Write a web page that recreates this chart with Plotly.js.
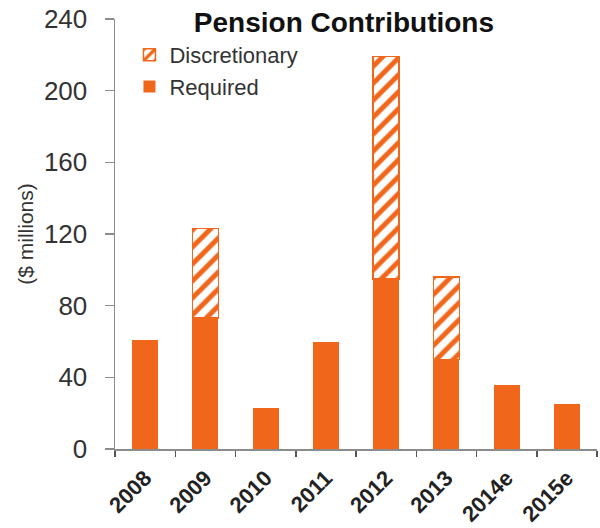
<!DOCTYPE html>
<html>
<head>
<meta charset="utf-8">
<script src="https://cdn.plot.ly/plotly-3.0.1.min.js"></script>
<style>html,body{margin:0;padding:0;background:#fff;}#chart{width:600px;height:528px;}</style>
</head>
<body>
<div id="chart"></div>
<script>
const years = ['2008', '2009', '2010', '2011', '2012', '2013', '2014e', '2015e'];
const required = [61, 73, 23, 60, 95, 50, 36, 25];
const discretionary = [null, 50, null, null, 124, 46, null, null];
const yTicks = [0, 40, 80, 120, 160, 200, 240];

const orange = '#F0671C';
const FONT = 'Liberation Sans, Arial, sans-serif';

const traces = [
  {
    type: 'bar', name: 'Required', x: years, y: required,
    marker: {color: orange, line: {width: 0}},
    hoverinfo: 'x+y'
  },
  {
    type: 'bar', name: 'Discretionary', x: years, y: discretionary,
    marker: {
      color: '#ffffff',
      line: {color: orange, width: 1.5},
      pattern: {shape: '/', fgcolor: orange, bgcolor: '#ffffff', size: 12, solidity: 0.42}
    },
    hoverinfo: 'x+y'
  }
];

const layout = {
  width: 600, height: 528,
  margin: {l: 115, r: 3, t: 19, b: 79},
  paper_bgcolor: '#ffffff', plot_bgcolor: '#ffffff',
  barmode: 'stack', bargap: 0.57,
  font: {family: FONT, color: '#333333'},
  title: {
    text: '<b>Pension Contributions</b>',
    font: {family: FONT, size: 28, color: '#111111'},
    xref: 'paper', x: 0.475, xanchor: 'center',
    yref: 'container', y: 0.958, yanchor: 'middle'
  },
  showlegend: true,
  legend: {
    x: 0.03, xanchor: 'left', y: 0.965, yanchor: 'top',
    traceorder: 'reversed',
    font: {family: FONT, size: 22, color: '#333333'},
    bgcolor: 'rgba(0,0,0,0)'
  },
  xaxis: {
    type: 'category', range: [-0.5, 7.5],
    showline: true, linecolor: '#8c8c8c', linewidth: 1.5,
    ticks: 'outside', tickson: 'boundaries', ticklen: 6, tickcolor: '#555555', tickwidth: 1.5,
    tickangle: -45, ticklabelstandoff: 6,
    tickfont: {family: FONT, size: 22, color: '#222222', weight: 'bold'},
    showgrid: false, zeroline: false, fixedrange: true
  },
  yaxis: {
    range: [0, 240], tickvals: yTicks, ticktext: yTicks.map(String),
    showline: true, linecolor: '#8c8c8c', linewidth: 1.5,
    ticks: 'outside', ticklen: 9, tickcolor: '#8c8c8c', tickwidth: 1.5,
    ticklabelstandoff: 12,
    tickfont: {family: FONT, size: 26, color: '#333333'},
    title: {text: '($ millions)', font: {family: FONT, size: 21, color: '#333333'}, standoff: 4},
    showgrid: false, zeroline: false, fixedrange: true
  }
};

Plotly.newPlot('chart', traces, layout, {displayModeBar: false, staticPlot: true});
</script>
</body>
</html>
